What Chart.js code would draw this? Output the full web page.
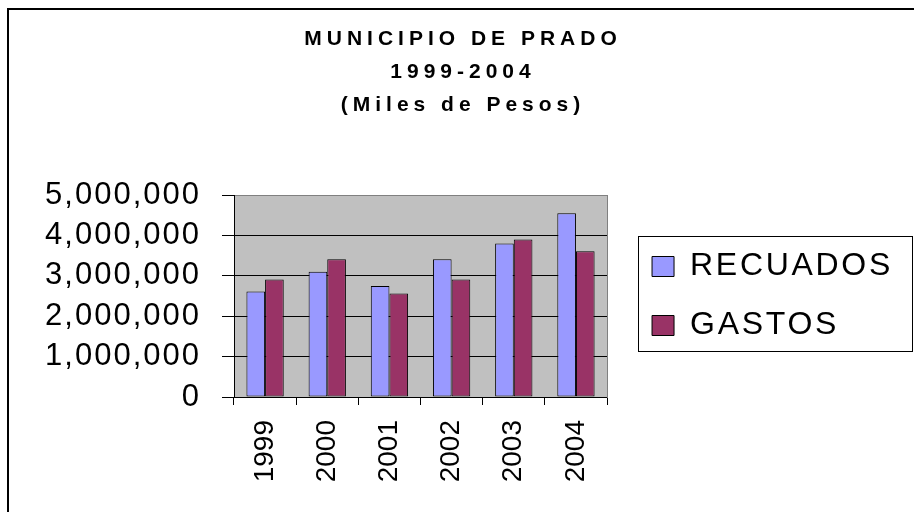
<!DOCTYPE html>
<html>
<head>
<meta charset="utf-8">
<script src="https://cdn.jsdelivr.net/npm/chart.js@4.4.1/dist/chart.umd.min.js"></script>
<style>
html, body { margin: 0; padding: 0; background: #fff; }
#wrap { position: relative; width: 914px; height: 512px; overflow: hidden; }
#frame { position: absolute; left: 7px; top: 8px; width: 940px; height: 540px; border-left: 2px solid #000; border-top: 2px solid #000; pointer-events: none; }
canvas { display: block; }
</style>
</head>
<body>
<div id="wrap"><canvas id="c" width="914" height="512"></canvas><div id="frame"></div></div>
<script>
const categories = ['1999', '2000', '2001', '2002', '2003', '2004'];
const recuados = [2610000, 3100000, 2750000, 3410000, 3800000, 4550000];
const gastos = [2910000, 3410000, 2560000, 2910000, 3900000, 3610000];
const seriesNames = ['RECUADOS', 'GASTOS'];
const yTickLabels = ['0', '1,000,000', '2,000,000', '3,000,000', '4,000,000', '5,000,000'];
const titleLines = ['MUNICIPIO DE PRADO', '1999-2004', '(Miles de Pesos)'];

const FONT = "'Liberation Sans', Arial, sans-serif";

function spaced(obj, name, ls) {
  if (!obj || obj['__sp_' + name]) return;
  const orig = obj[name];
  obj[name] = function (...args) {
    const ctx = this.ctx;
    const prev = ctx.letterSpacing;
    ctx.letterSpacing = ls;
    try { return orig.apply(this, args); } finally { ctx.letterSpacing = prev; }
  };
  obj['__sp_' + name] = true;
}

const styling = {
  id: 'styling',
  beforeLayout(chart) {
    spaced(chart.titleBlock, 'draw', '5px');
    spaced(chart.legend, 'fit', '2.7px');
    spaced(chart.legend, 'draw', '2.7px');
  },
  beforeDraw(chart) {
    spaced(chart.scales.y, 'drawLabels', '2px');
    const { ctx, chartArea: a } = chart;
    ctx.save();
    ctx.fillStyle = '#C0C0C0';
    ctx.fillRect(a.left, a.top, a.right - a.left, a.bottom - a.top);
    ctx.restore();
  },
  afterDraw(chart) {
    const hb = chart.legend.legendHitBoxes;
    if (!hb || !hb.length) return;
    const ctx = chart.ctx;
    const first = hb[0], last = hb[hb.length - 1];
    const left = Math.round(first.left - 14) + 0.5;
    const top = Math.round(first.top - 15) + 0.5;
    const bottom = Math.round(last.top + last.height + 9) + 0.5;
    const right = chart.width - 1.5;
    ctx.save();
    ctx.strokeStyle = '#000';
    ctx.lineWidth = 1;
    ctx.strokeRect(left, top, right - left, bottom - top);
    ctx.restore();
  }
};

new Chart(document.getElementById('c'), {
  type: 'bar',
  data: {
    labels: categories,
    datasets: [
      { label: seriesNames[0], data: recuados, backgroundColor: '#9999FF', borderColor: '#000', borderWidth: 1, borderSkipped: false },
      { label: seriesNames[1], data: gastos, backgroundColor: '#993366', borderColor: '#000', borderWidth: 1, borderSkipped: false }
    ]
  },
  options: {
    responsive: false,
    animation: false,
    devicePixelRatio: 1,
    datasets: { bar: { categoryPercentage: 0.6, barPercentage: 1 } },
    layout: { padding: { top: 0, left: 23, right: 11, bottom: 0 } },
    plugins: {
      tooltip: { enabled: false },
      title: {
        display: true,
        text: titleLines,
        color: '#000',
        font: { family: FONT, size: 21, weight: 'bold', lineHeight: '33px' },
        padding: { top: 22.5, bottom: 73.5 }
      },
      legend: {
        display: true,
        position: 'right',
        fullSize: false,
        align: 'center',
        maxWidth: 400,
        labels: {
          font: { family: FONT, size: 32 },
          color: '#000',
          boxWidth: 22,
          boxHeight: 20,
          padding: 27
        }
      }
    },
    scales: {
      x: {
        offset: true,
        grid: { display: true, drawOnChartArea: false, drawTicks: true, tickLength: 8, color: '#000', offset: true },
        border: { display: true, color: '#000', width: 1 },
        ticks: { font: { family: FONT, size: 28 }, color: '#000', minRotation: 90, maxRotation: 90, padding: 15, autoSkip: false },
        afterFit: (s) => { s.height = 115; }
      },
      y: {
        min: 0,
        max: 5000000,
        ticks: {
          stepSize: 1000000,
          font: { family: FONT, size: 31 },
          color: '#000',
          padding: 21,
          callback: (value, index) => yTickLabels[index]
        },
        grid: {
          color: (c) => (c.tick && c.tick.value === 5000000 ? '#808080' : '#000'),
          tickColor: '#000',
          tickLength: 12,
          lineWidth: 1
        },
        border: { display: true, color: '#000', width: 1 },
        afterFit: (s) => { s.width = 211; }
      },
      y2: {
        position: 'right',
        min: 0,
        max: 5000000,
        grid: { display: false, drawTicks: false },
        ticks: { display: false },
        border: { display: true, color: '#808080', width: 1 },
        afterFit: (s) => { s.width = 18; }
      }
    }
  },
  plugins: [styling]
});
</script>
</body>
</html>
